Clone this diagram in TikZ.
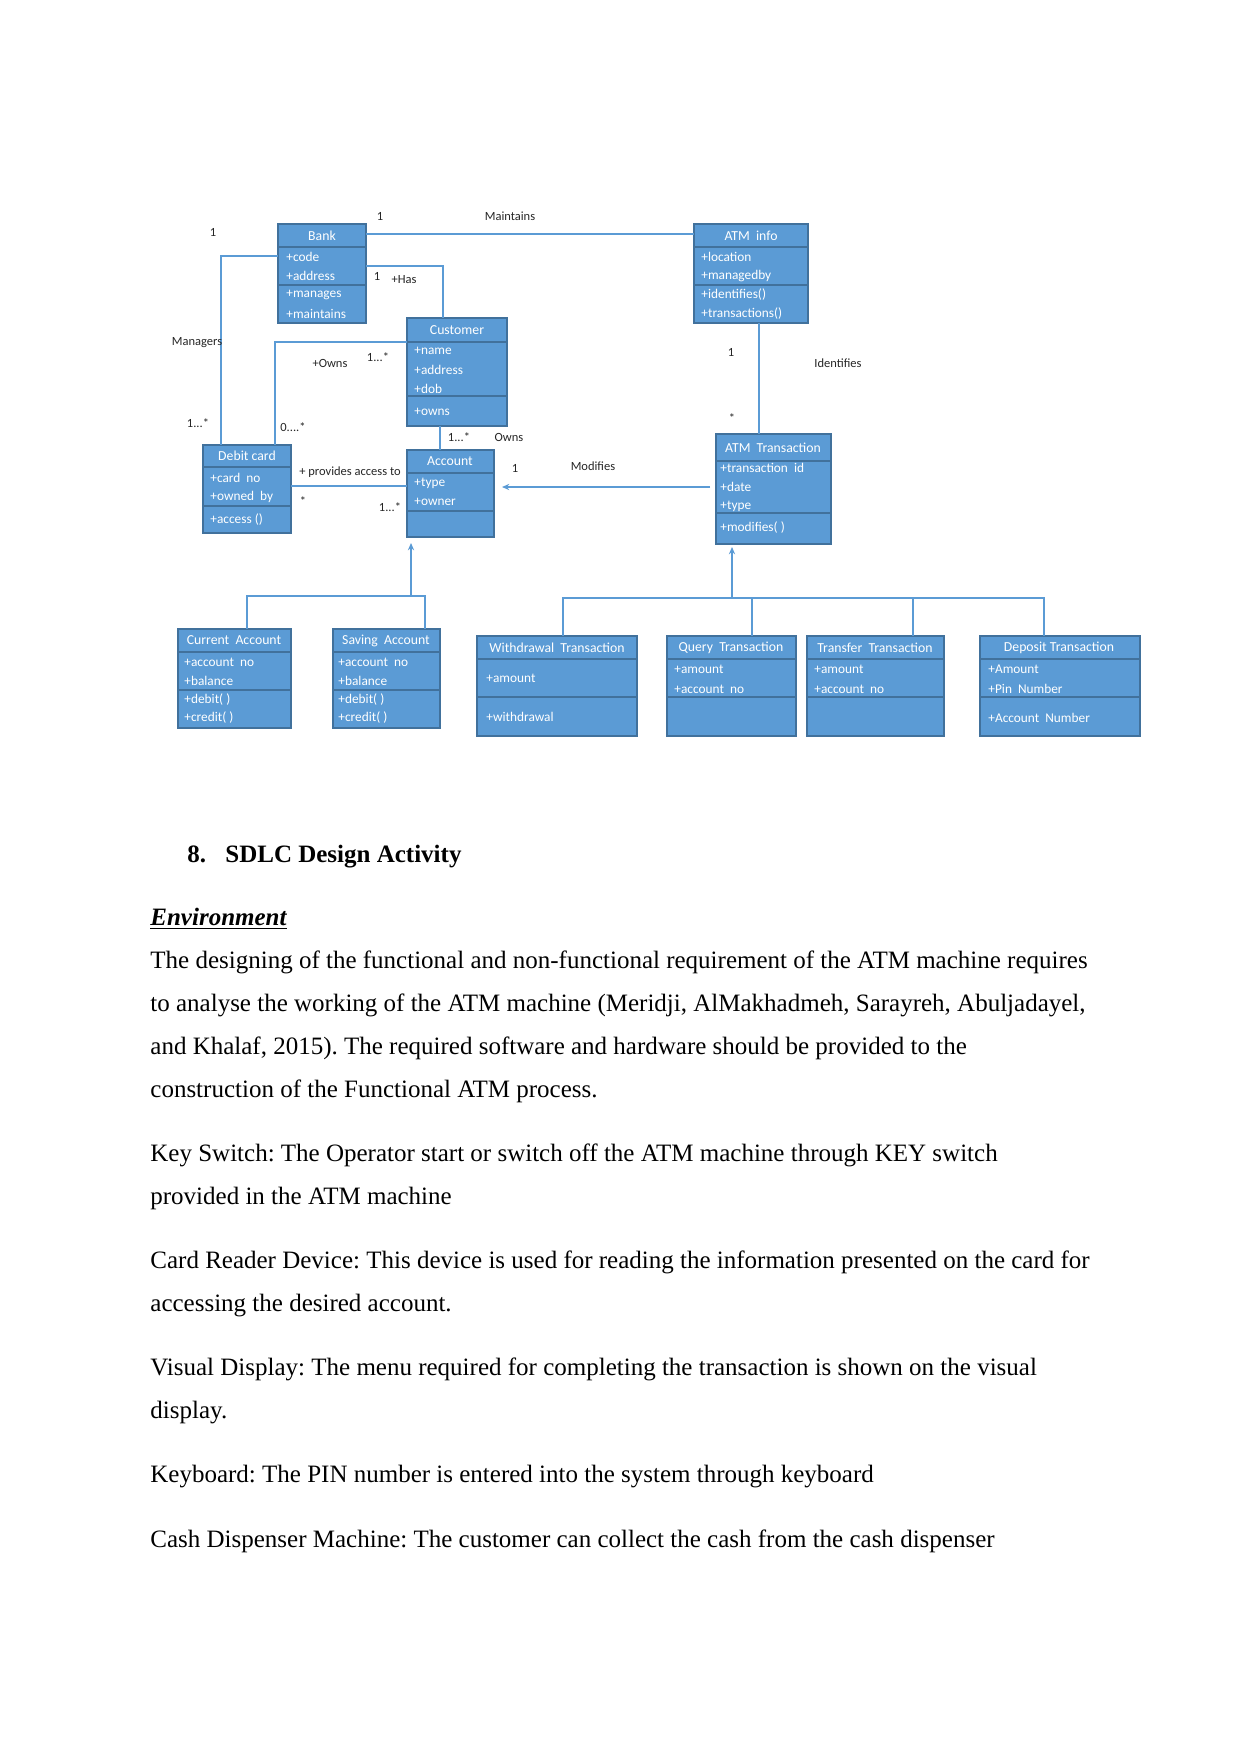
\documentclass[tikz,border=0pt]{standalone}
\usepackage{fontspec}
\setmainfont{Liberation Serif}
\newfontfamily\diagfont{Carlito}
\usetikzlibrary{arrows.meta}
\definecolor{boxfill}{HTML}{5B9BD5}
\definecolor{boxedge}{HTML}{41719C}
\definecolor{connc}{HTML}{5B9BD5}
\newcommand\umlnode[5]{\node[umlbox, minimum width=#4*0.48pt, minimum height=#5*0.48pt] (#1) at (#2,#3) {};}
\frenchspacing
\begin{document}
\frenchspacing
\begin{tikzpicture}[x=0.48pt,y=-0.48pt,
 umlbox/.style={draw=boxedge, fill=boxfill, line width=0.7pt, anchor=north west, inner sep=0, outer sep=0},
 divline/.style={draw=boxedge, line width=0.7pt},
 hdr/.style={text=white, font=\diagfont\fontsize{6.6}{7}\selectfont, inner sep=0, anchor=center},
 attr/.style={text=white, font=\diagfont\fontsize{6.4}{7}\selectfont, inner sep=0, anchor=west},
 lbl/.style={text=black!85, font=\diagfont\fontsize{6}{7}\selectfont, inner sep=0},
 conn/.style={draw=connc, line width=0.8pt},
 tipped/.style={conn, -{Stealth[length=3.5pt,width=3pt]}},
 body/.style={font=\fontsize{12}{14}\selectfont, inner sep=0, anchor=base west},
]
\useasboundingbox[fill=white] (0,0) rectangle (1241,1754);

% ---------- boxes ----------
\umlnode{bank}{278}{224}{88}{99}
\draw[divline] (278,247) -- (366,247); \draw[divline] (278,285) -- (366,285);
\node[hdr] (bank-h) at (322,235.5) {Bank};
\node[attr] (bank-a1) at (286,257) {+code};
\node[attr] (bank-a2) at (286,276) {+address};
\node[attr] (bank-m1) at (286,295) {+manages};
\node[attr] (bank-m2) at (286,314) {+maintains};

\umlnode{atminfo}{694}{224}{114}{99}
\draw[divline] (694,247) -- (808,247); \draw[divline] (694,285) -- (808,285);
\node[hdr] (atminfo-h) at (751,235.5) {ATM\ \ info};
\node[attr] (atminfo-a1) at (701,257) {+location};
\node[attr] (atminfo-a2) at (701,276) {+managedby};
\node[attr] (atminfo-m1) at (701,295) {+identifies()};
\node[attr] (atminfo-m2) at (701,314) {+transactions()};

\umlnode{customer}{407}{318}{100}{108}
\draw[divline] (407,342) -- (507,342); \draw[divline] (407,396) -- (507,396);
\node[hdr] (customer-h) at (457,330) {Customer};
\node[attr] (customer-a1) at (414,351) {+name};
\node[attr] (customer-a2) at (414,370) {+address};
\node[attr] (customer-a3) at (414,389) {+dob};
\node[attr] (customer-m1) at (414,412) {+owns};

\umlnode{debit}{203}{445}{88}{88}
\draw[divline] (203,467) -- (291,467); \draw[divline] (203,506) -- (291,506);
\node[hdr] (debit-h) at (247,456) {Debit card};
\node[attr] (debit-a1) at (210,478) {+card\ \ no};
\node[attr] (debit-a2) at (210,497) {+owned\ \ by};
\node[attr] (debit-m1) at (210,520) {+access ()};

\umlnode{account}{407}{450}{87}{87}
\draw[divline] (407,473) -- (494,473); \draw[divline] (407,511) -- (494,511);
\node[hdr] (account-h) at (450,461.5) {Account};
\node[attr] (account-a1) at (414,483) {+type};
\node[attr] (account-a2) at (414,502) {+owner};

\umlnode{atmtrans}{716}{434}{115}{110}
\draw[divline] (716,461) -- (831,461); \draw[divline] (716,513) -- (831,513);
\node[hdr] (atmtrans-h) at (773,447.5) {ATM\ \ Transaction};
\node[attr] (atmtrans-a1) at (720,468) {+transaction\ \ id};
\node[attr] (atmtrans-a2) at (720,487) {+date};
\node[attr] (atmtrans-a3) at (720,506) {+type};
\node[attr] (atmtrans-m1) at (720,528) {+modifies(\ )};

\umlnode{current}{178}{629}{113}{99}
\draw[divline] (178,652) -- (291,652); \draw[divline] (178,690) -- (291,690);
\node[hdr] (current-h) at (234,640.5) {Current\ \ Account};
\node[attr] (current-a1) at (184,662) {+account\ \ no};
\node[attr] (current-a2) at (184,681) {+balance};
\node[attr] (current-m1) at (184,700) {+debit(\ )};
\node[attr] (current-m2) at (184,718) {+credit(\ )};

\umlnode{saving}{333}{629}{107}{99}
\draw[divline] (333,652) -- (440,652); \draw[divline] (333,690) -- (440,690);
\node[hdr] (saving-h) at (386,640.5) {Saving\ \ Account};
\node[attr] (saving-a1) at (338,662) {+account\ \ no};
\node[attr] (saving-a2) at (338,681) {+balance};
\node[attr] (saving-m1) at (338,700) {+debit(\ )};
\node[attr] (saving-m2) at (338,718) {+credit(\ )};

\umlnode{withdraw}{477}{636}{160}{100}
\draw[divline] (477,659) -- (637,659); \draw[divline] (477,697) -- (637,697);
\node[hdr] (withdraw-h) at (557,647.5) {Withdrawal\ \ Transaction};
\node[attr] (withdraw-a1) at (486,678) {+amount};
\node[attr] (withdraw-m1) at (486,717) {+withdrawal};

\umlnode{query}{667}{636}{129}{100}
\draw[divline] (667,659) -- (796,659); \draw[divline] (667,697) -- (796,697);
\node[hdr] (query-h) at (731,647.5) {Query\ \ Transaction};
\node[attr] (query-a1) at (674,669) {+amount};
\node[attr] (query-a2) at (674,689) {+account\ \ no};

\umlnode{transfer}{807}{636}{137}{100}
\draw[divline] (807,659) -- (944,659); \draw[divline] (807,697) -- (944,697);
\node[hdr] (transfer-h) at (875,647.5) {Transfer\ \ Transaction};
\node[attr] (transfer-a1) at (814,669) {+amount};
\node[attr] (transfer-a2) at (814,689) {+account\ \ no};

\umlnode{deposit}{980}{636}{160}{100}
\draw[divline] (980,659) -- (1140,659); \draw[divline] (980,697) -- (1140,697);
\node[hdr] (deposit-h) at (1059,647.5) {Deposit Transaction};
\node[attr] (deposit-a1) at (988,669) {+Amount};
\node[attr] (deposit-a2) at (988,689) {+Pin\ \ Number};
\node[attr] (deposit-m1) at (988,718) {+Account\ \ Number};

% ---------- connectors ----------
\coordinate (yMaint) at (0,234);
\draw[conn] (bank.east |- yMaint) -- (atminfo.west |- yMaint);
\coordinate (cMgr) at (221,256);
\draw[conn] (bank.west |- cMgr) -| (debit.north -| cMgr);
\coordinate (cHas) at (443,266);
\draw[conn] (bank.east |- cHas) -| (customer.north -| cHas);
\coordinate (cOwn) at (275,342);
\draw[conn] (customer.west |- cOwn) -| (debit.north -| cOwn);
\coordinate (cCA) at (440,0);
\draw[conn] (customer.south -| cCA) -- (account.north -| cCA);
\coordinate (cDA) at (0,486);
\draw[conn] (debit.east |- cDA) -- (account.west |- cDA);
\coordinate (cAT) at (759,0);
\draw[conn] (atminfo.south -| cAT) -- (atmtrans.north -| cAT);
\coordinate (modS) at (710,487);
\coordinate (modE) at (502,487);
\draw[tipped] (modS) -- (modE);

% generalisation: accounts
\coordinate (inhA) at (411,596);
\coordinate (tipA) at (411,543);
\draw[tipped] (inhA) -- (tipA);
\coordinate (cCur) at (247,596);
\coordinate (cSav) at (425,596);
\draw[conn] (current.north -| cCur) -- (cCur) -- (cSav) -- (saving.north -| cSav);

% generalisation: transactions
\coordinate (inhT) at (732,598);
\coordinate (tipT) at (732,547);
\draw[tipped] (inhT) -- (tipT);
\coordinate (cWd) at (563,598);
\coordinate (cQu) at (752,598);
\coordinate (cTr) at (913,598);
\coordinate (cDe) at (1044,598);
\draw[conn] (withdraw.north -| cWd) -- (cWd) -- (cDe) -- (deposit.north -| cDe);
\draw[conn] (cQu) -- (query.north -| cQu);
\draw[conn] (cTr) -- (transfer.north -| cTr);

% ---------- connector labels ----------
\node[lbl] (l-maint1) at (380,216) {1};
\node[lbl] (l-maint) at (510,216) {Maintains};
\node[lbl] (l-mgr1) at (213,232) {1};
\node[lbl] (l-mgr) at (197,343) {Managers};
\node[lbl] (l-mgr2) at (198,423) {1...*};
\node[lbl] (l-has1) at (377,276) {1};
\node[lbl] (l-has) at (404,280) {+Has};
\node[lbl] (l-owns) at (330,363) {+Owns};
\node[lbl] (l-owns1) at (378,357) {1...*};
\node[lbl] (l-owns2) at (293,427) {0....*};
\node[lbl] (l-ca1) at (459,437) {1...*};
\node[lbl] (l-ca) at (509,437) {Owns};
\node[lbl] (l-pa) at (350,472) {+ provides access to};
\node[lbl] (l-pa1) at (303,501) {*};
\node[lbl] (l-pa2) at (390,507) {1...*};
\node[lbl] (l-id1) at (731,352) {1};
\node[lbl] (l-id) at (838,363) {Identifies};
\node[lbl] (l-id2) at (732,418) {*};
\node[lbl] (l-mod1) at (515,468) {1};
\node[lbl] (l-mod) at (593,466) {Modifies};

% ---------- text ----------
\node[body, font=\fontsize{12}{14}\selectfont\bfseries] (h-num) at (187,862) {8.};
\node[body, font=\fontsize{12}{14}\selectfont\bfseries] (h-title) at (225,862) {SDLC Design Activity};
\node[body] (env) at (150,925) {\textbf{\textit{\underline{Environment}}}};
\node[body] (t1) at (150,968) {The designing of the functional and non-functional requirement of the ATM machine requires};
\node[body] (t2) at (150,1011) {to analyse the working of the ATM machine (Meridji, AlMakhadmeh, Sarayreh, Abuljadayel,};
\node[body] (t3) at (150,1054) {and Khalaf, 2015). The required software and hardware should be provided to the};
\node[body] (t4) at (150,1097) {construction of the Functional ATM process.};
\node[body] (t5) at (150,1161) {Key Switch: The Operator start or switch off the ATM machine through KEY switch};
\node[body] (t6) at (150,1204) {provided in the ATM machine};
\node[body] (t7) at (150,1268) {Card Reader Device: This device is used for reading the information presented on the card for};
\node[body] (t8) at (150,1311) {accessing the desired account.};
\node[body] (t9) at (150,1375) {Visual Display: The menu required for completing the transaction is shown on the visual};
\node[body] (t10) at (150,1418) {display.};
\node[body] (t11) at (150,1482) {Keyboard: The PIN number is entered into the system through keyboard};
\node[body] (t12) at (150,1547) {Cash Dispenser Machine: The customer can collect the cash from the cash dispenser};
\end{tikzpicture}
\end{document}
